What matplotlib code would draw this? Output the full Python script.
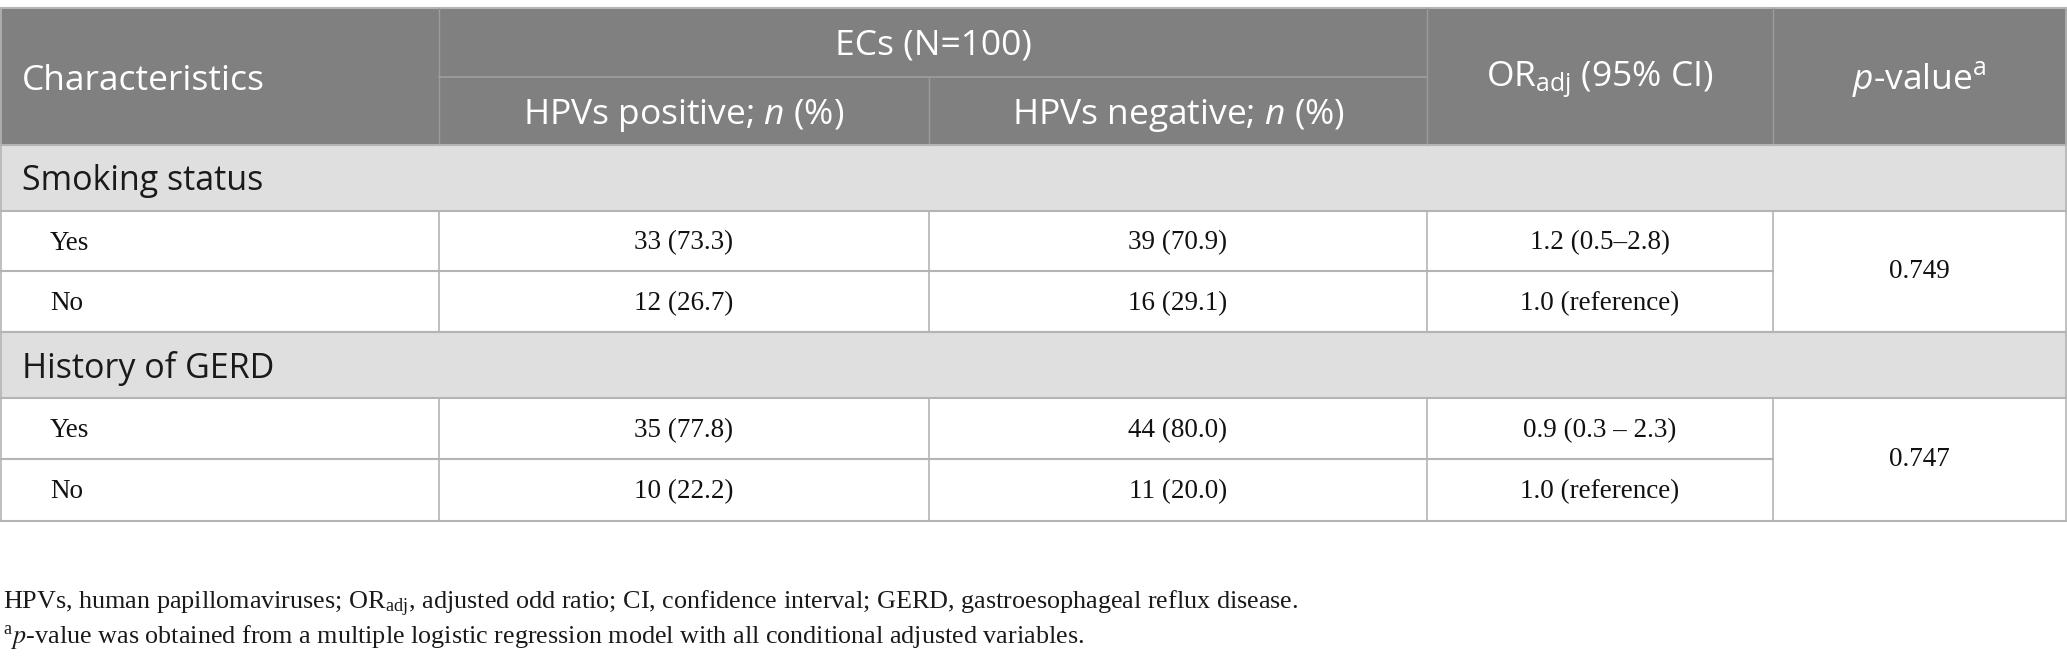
import matplotlib
matplotlib.use("Agg")
import matplotlib.pyplot as plt
from matplotlib.patches import Rectangle

# ---------------- data ----------------
header_top = "ECs (N=100)"
col_headers = ["Characteristics", "HPVs positive; $\\mathit{n}$ (%)", "HPVs negative; $\\mathit{n}$ (%)",
               "OR$_{\\mathregular{adj}}$ (95% CI)", "$\\mathit{p}$-value$^{\\mathregular{a}}$"]
sections = ["Smoking status", "History of GERD"]
levels = ["Yes", "No"]
hpv_positive = ["33 (73.3)", "12 (26.7)", "35 (77.8)", "10 (22.2)"]
hpv_negative = ["39 (70.9)", "16 (29.1)", "44 (80.0)", "11 (20.0)"]
or_adj = ["1.2 (0.5\u20132.8)", "1.0 (reference)", "0.9 (0.3 \u2013 2.3)", "1.0 (reference)"]
p_values = ["0.749", "0.747"]
footnotes = [
    "HPVs, human papillomaviruses; OR$_{\\mathregular{adj}}$, adjusted odd ratio; CI, confidence interval; GERD, gastroesophageal reflux disease.",
    "$^{\\mathregular{a}}$$\\mathit{p}$-value was obtained from a multiple logistic regression model with all conditional adjusted variables.",
]

# ---------------- style ----------------
plt.rcParams['mathtext.fontset'] = 'custom'
plt.rcParams['mathtext.rm'] = 'Open Sans'
plt.rcParams['mathtext.it'] = 'Open Sans:italic'
plt.rcParams['mathtext.bf'] = 'Open Sans:bold'

W, H = 2067, 665
fig = plt.figure(figsize=(W / 100, H / 100), dpi=100)
ax = fig.add_axes([0, 0, 1, 1])
ax.set_xlim(0, W)
ax.set_ylim(H, 0)
ax.axis('off')

HEAD_BG = '#7f807f'
SEC_BG = '#e0dfe0'
HEAD_LINE = '#9c9c9c'
LINE = '#b4b4b4'
SANS = 'Open Sans'
SERIF = 'Liberation Serif'
HS = 25.5   # header font size
SS = 24.5   # section font size
BS = 19.5   # body font size
FS = 18.8   # footnote size
TXT = '#111111'

cols = [0, 439, 929, 1427, 1773, 2066]
y_top, y_split, y_head = 8, 77, 145
row_edges = [145, 211, 271, 332, 398, 459, 521]

# header background
ax.add_patch(Rectangle((0, y_top), W, y_head - y_top, facecolor=HEAD_BG, edgecolor='none'))
# section backgrounds
for i in range(len(sections)):
    y0 = row_edges[i * 3]
    ax.add_patch(Rectangle((0, y0), W, row_edges[i * 3 + 1] - y0, facecolor=SEC_BG, edgecolor='none'))

# header lines
ax.plot([0, W], [y_top, y_top], color=LINE, lw=1.5)
ax.plot([cols[1], cols[3]], [y_split, y_split], color=HEAD_LINE, lw=1.3)
for x in (cols[1], cols[3], cols[4]):
    ax.plot([x, x], [y_top, y_head], color=HEAD_LINE, lw=1.0)
ax.plot([cols[2], cols[2]], [y_split, y_head], color=HEAD_LINE, lw=1.0)

# header texts
ax.text(22, (y_top + y_head) / 2 + 5, col_headers[0], color='white', fontsize=HS, family=SANS, va='center', ha='left')
ax.text((cols[1] + cols[3]) / 2, (y_top + y_split) / 2 + 3, header_top, color='white', fontsize=HS, family=SANS,
        va='center', ha='center')
for j in (1, 2):
    ax.text((cols[j] + cols[j + 1]) / 2, (y_split + y_head) / 2 + 4, col_headers[j], color='white', fontsize=HS,
            family=SANS, va='center', ha='center', math_fontfamily='custom')
for j in (3, 4):
    ax.text((cols[j] + cols[j + 1]) / 2, (y_top + y_head) / 2 + 4, col_headers[j], color='white', fontsize=HS,
            family=SANS, va='center', ha='center', math_fontfamily='custom')

# body
for i, sec in enumerate(sections):
    ys = row_edges[i * 3]
    ysb = row_edges[i * 3 + 1]
    ax.text(22, (ys + ysb) / 2 + 3, sec, color='#1a1a1a', fontsize=SS, family=SANS, va='center', ha='left')
    for k, lev in enumerate(levels):
        r = i * 2 + k
        y0 = row_edges[i * 3 + 1 + k]
        y1 = row_edges[i * 3 + 2 + k]
        yc = (y0 + y1) / 2 + 2
        ax.text(50, yc, lev, fontsize=BS, family=SERIF, va='center', ha='left', color=TXT)
        ax.text((cols[1] + cols[2]) / 2, yc, hpv_positive[r], fontsize=BS, family=SERIF, va='center', ha='center', color=TXT)
        ax.text((cols[2] + cols[3]) / 2, yc, hpv_negative[r], fontsize=BS, family=SERIF, va='center', ha='center', color=TXT)
        ax.text((cols[3] + cols[4]) / 2, yc, or_adj[r], fontsize=BS, family=SERIF, va='center', ha='center', color=TXT)
    ymid = (row_edges[i * 3 + 1] + row_edges[i * 3 + 3]) / 2
    ax.text((cols[4] + cols[5]) / 2, ymid, p_values[i], fontsize=BS, family=SERIF, va='center', ha='center', color=TXT)
    # lines for this block
    ax.plot([0, W], [ys, ys], color=LINE, lw=1.5)
    ax.plot([0, W], [ysb, ysb], color=LINE, lw=1.5)
    ax.plot([0, cols[4]], [row_edges[i * 3 + 2]] * 2, color=LINE, lw=1.5)
    ax.plot([0, W], [row_edges[i * 3 + 3]] * 2, color=LINE, lw=1.5)
    for x in cols[1:5]:
        ax.plot([x, x], [ysb, row_edges[i * 3 + 3]], color=LINE, lw=1.2)
    ax.plot([0.7, 0.7], [ys, row_edges[i * 3 + 3]], color=LINE, lw=1.2)
    ax.plot([W - 1, W - 1], [ys, row_edges[i * 3 + 3]], color=LINE, lw=1.2)

ax.plot([0.7, 0.7], [y_top, y_head], color=LINE, lw=1.2)
ax.plot([W - 1, W - 1], [y_top, y_head], color=LINE, lw=1.2)

# footnotes
for fn, yc in zip(footnotes, [604, 638]):
    ax.text(3, yc, fn, fontsize=FS, family=SERIF, va='center', ha='left', color='#1a1a1a', math_fontfamily='stix')

fig.savefig('out.png', dpi=100)
